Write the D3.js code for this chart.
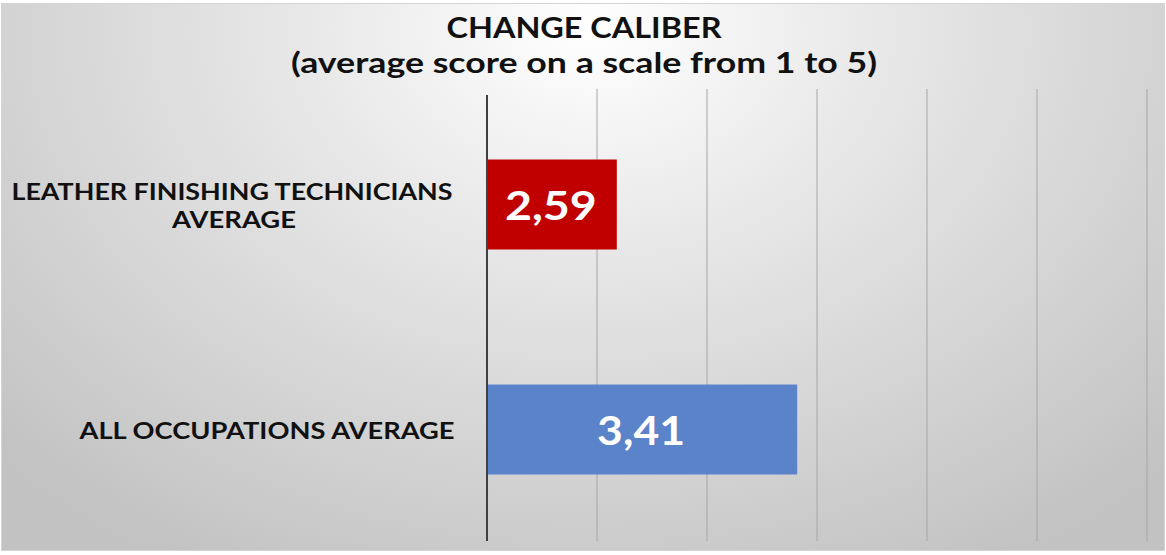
<!DOCTYPE html>
<html><head><meta charset="utf-8">
<script src="https://cdn.jsdelivr.net/npm/d3@7"></script>
<style>html,body{margin:0;padding:0;background:#fff;}svg{display:block;}</style>
</head><body>
<script>
const categories = [["LEATHER FINISHING TECHNICIANS", "AVERAGE"], ["ALL OCCUPATIONS AVERAGE"]];
const values = [2.59, 3.41];
const valueLabels = ["2,59", "3,41"];
const barColors = ["#c00000", "#5b83c9"];
const gridTicks = [2, 2.5, 3, 3.5, 4, 4.5, 5];
const titleLines = ["CHANGE CALIBER", "(average score on a scale from 1 to 5)"];

const W = 1166, H = 555;
const FONT = "Lato, 'Open Sans', sans-serif";
const svg = d3.select("body").append("svg").attr("width", W).attr("height", H);
const defs = svg.append("defs");
const grad = defs.append("radialGradient").attr("id", "bg")
  .attr("gradientUnits", "userSpaceOnUse")
  .attr("cx", 590).attr("cy", 30).attr("r", 820)
  .attr("gradientTransform", "translate(590,30) scale(1,0.75) translate(-590,-30)");
grad.append("stop").attr("offset", "0").attr("stop-color", "#ffffff");
grad.append("stop").attr("offset", "0.35").attr("stop-color", "#e8e8e8");
grad.append("stop").attr("offset", "1").attr("stop-color", "#c2c2c2");

svg.append("rect").attr("x", 1.5).attr("y", 3.5).attr("width", W - 3).attr("height", H - 8)
  .attr("fill", "url(#bg)").attr("stroke", "#d4d4d4").attr("stroke-width", 1);

const x = d3.scaleLinear().domain([2, 5]).range([487, 1147]);
const y = d3.scaleBand().domain(d3.range(categories.length)).range([92, 542]).paddingInner(0.6).paddingOuter(0.3);

// gridlines
svg.append("g").selectAll("line").data(gridTicks.slice(1)).join("line")
  .attr("x1", d => x(d)).attr("x2", d => x(d))
  .attr("y1", 89).attr("y2", 541)
  .attr("stroke", "#a6a6a6").attr("stroke-width", 1);

// bars
svg.append("g").selectAll("rect").data(values).join("rect")
  .attr("x", x(2)).attr("y", (d, i) => y(i))
  .attr("width", d => x(d) - x(2)).attr("height", y.bandwidth())
  .attr("fill", (d, i) => barColors[i]);

// axis line
svg.append("line").attr("x1", x(2)).attr("x2", x(2)).attr("y1", 95).attr("y2", 541)
  .attr("stroke", "#404040").attr("stroke-width", 2);

// value labels
const valueWidths = [92, 88];
svg.append("g").selectAll("text").data(values).join("text")
  .attr("x", d => (x(2) + x(d)) / 2 - 1).attr("y", (d, i) => y(i) + y.bandwidth() / 2 + 1)
  .attr("dy", "0.36em").attr("text-anchor", "middle")
  .attr("font-family", FONT).attr("font-weight", "bold")
  .attr("font-size", 40).attr("fill", "#ffffff")
  .attr("textLength", (d, i) => valueWidths[i]).attr("lengthAdjust", "spacingAndGlyphs")
  .text((d, i) => valueLabels[i]);

// category labels
const labelWidths = [[441, 124], [375]];
const labelCenters = [[232, 234], [267]];
const lab = svg.append("g").selectAll("text").data(categories).join("text")
  .attr("text-anchor", "middle")
  .attr("font-family", FONT).attr("font-weight", "bold")
  .attr("font-size", 23).attr("fill", "#111");
lab.each(function(lines, i) {
  const t = d3.select(this);
  const cy = y(i) + y.bandwidth() / 2 + 1;
  const lh = 28;
  lines.forEach((ln, k) => {
    t.append("tspan").attr("x", labelCenters[i][k])
      .attr("y", cy + (k - (lines.length - 1) / 2) * lh)
      .attr("dy", "0.36em")
      .attr("textLength", labelWidths[i][k]).attr("lengthAdjust", "spacingAndGlyphs")
      .text(ln);
  });
});

// title
const titleWidths = [275, 586];
svg.append("g").selectAll("text").data(titleLines).join("text")
  .attr("x", 584).attr("y", (d, i) => 28 + i * 35).attr("dy", "0.36em")
  .attr("text-anchor", "middle")
  .attr("font-family", FONT).attr("font-weight", "bold")
  .attr("font-size", 29).attr("fill", "#111")
  .attr("textLength", (d, i) => titleWidths[i]).attr("lengthAdjust", "spacingAndGlyphs")
  .text(d => d);
</script>
</body></html>
